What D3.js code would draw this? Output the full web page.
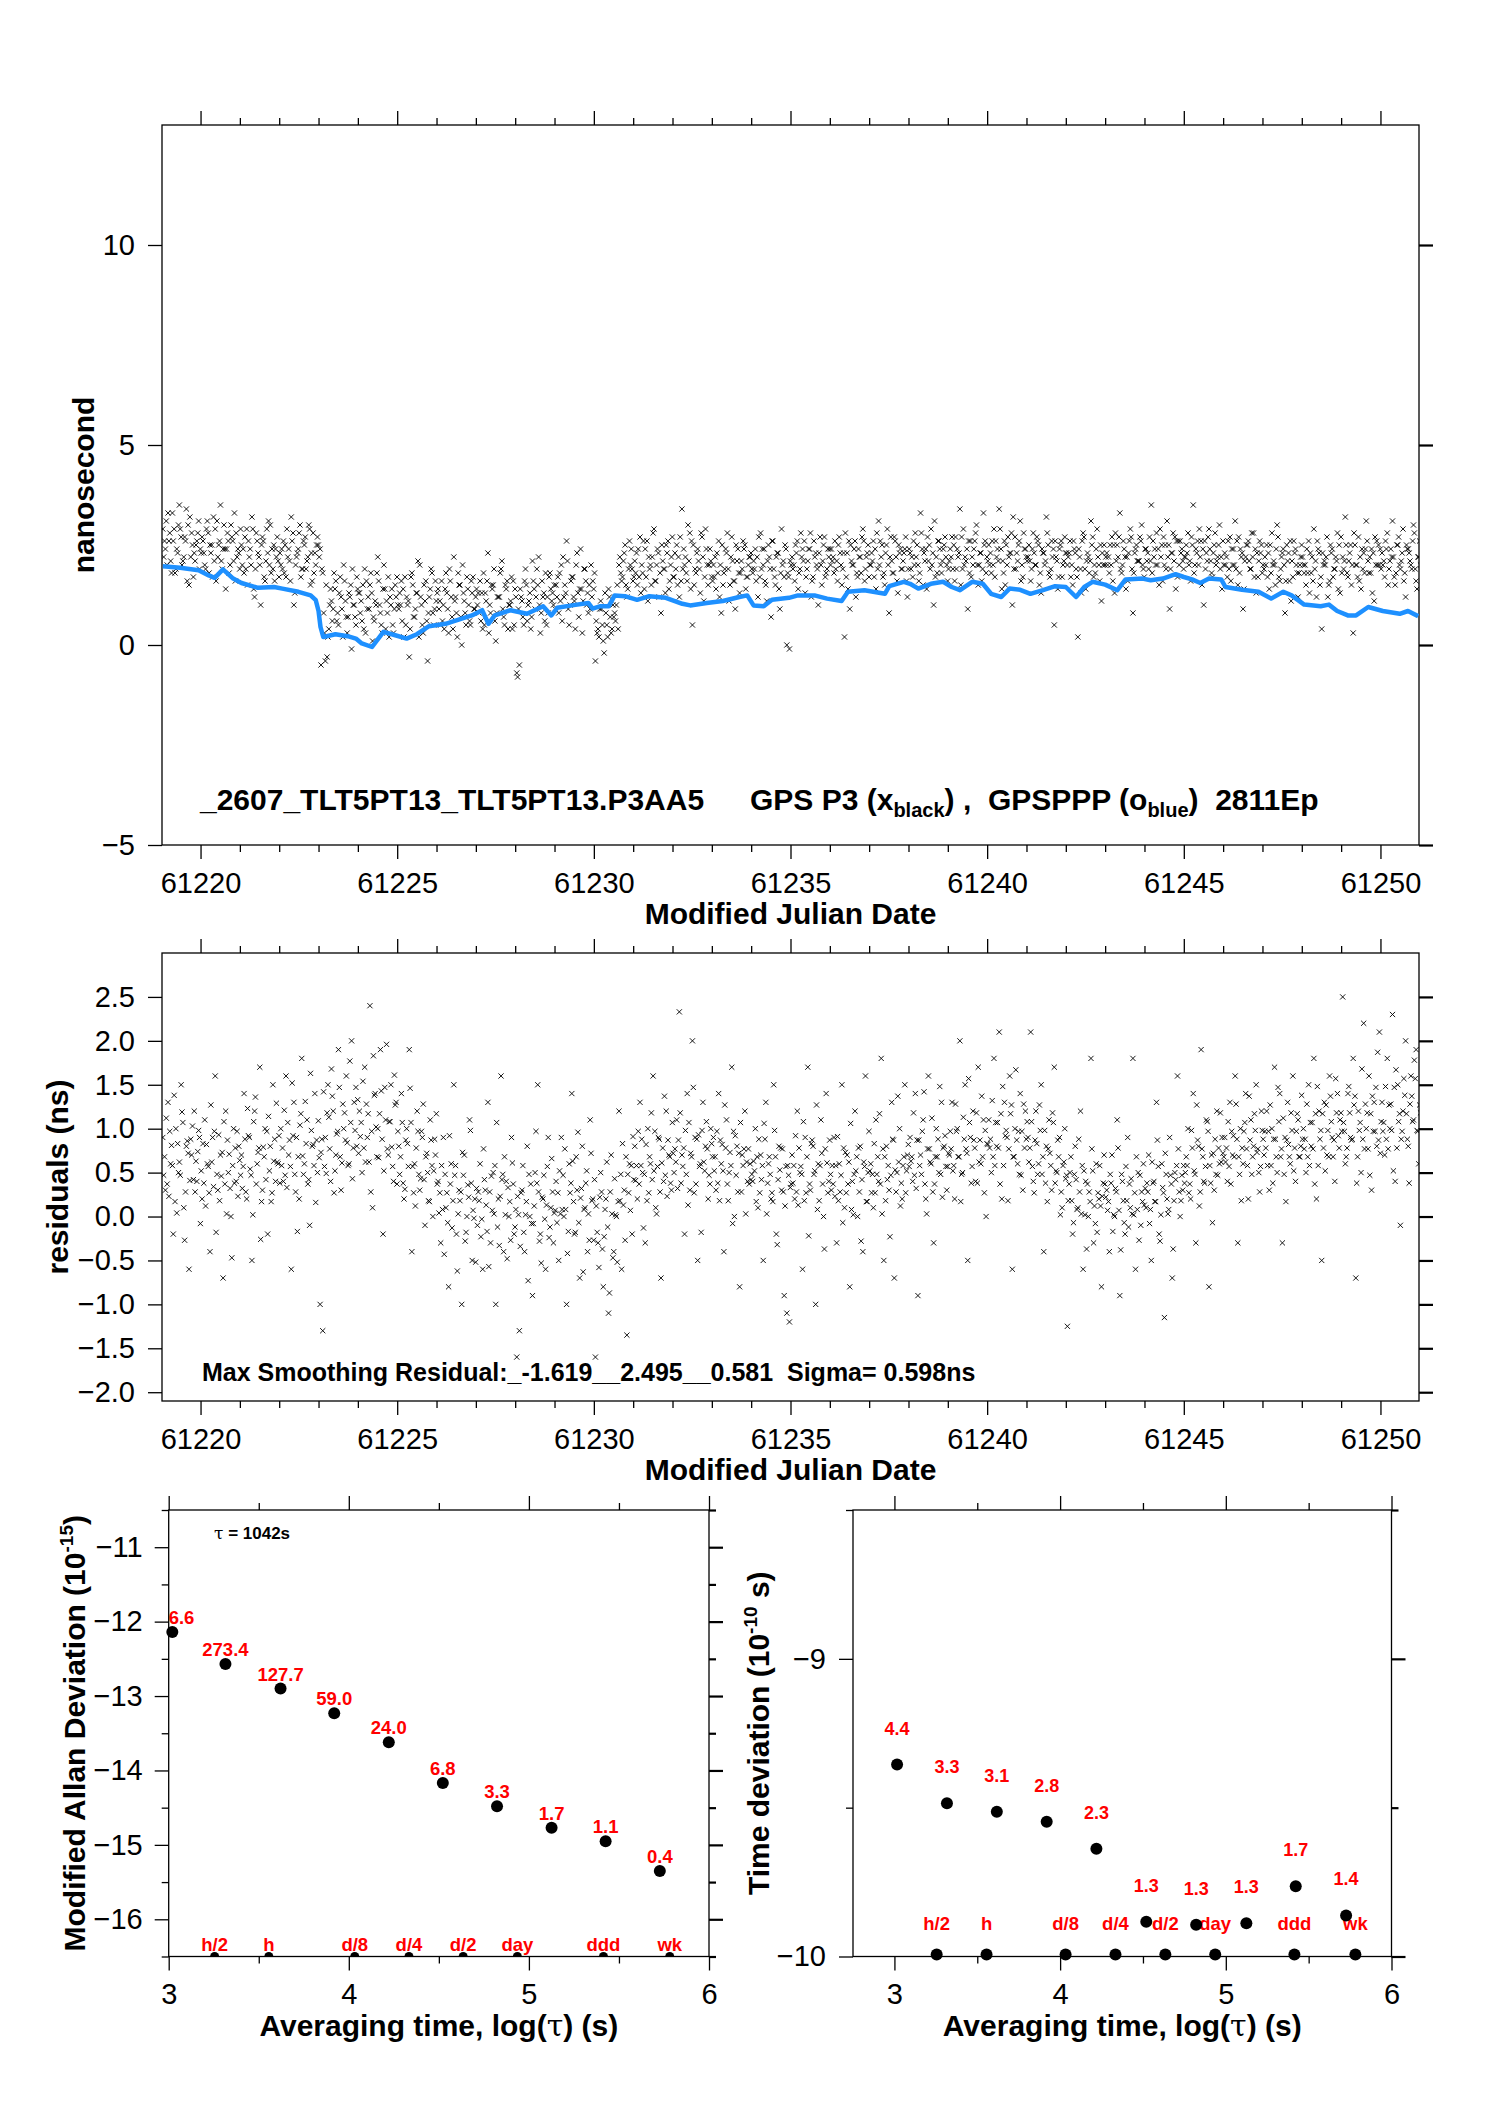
<!DOCTYPE html>
<html lang="en">
<head>
<meta charset="UTF-8">
<title>TLT5PT13 GPS P3 / GPSPPP</title>
<script src="https://d3js.org/d3.v7.min.js"></script>
<style>
  body { margin: 0; background: #fff; }
  svg { display: block; font-family: "Liberation Sans", Arial, Helvetica, sans-serif; }
  .tick text { font-size: 29px; fill: #000; }
  .title { font-weight: bold; font-size: 30px; white-space: pre; }
  .red { fill: #ff0000; font-weight: bold; font-size: 18.5px; }
</style>
</head>
<body>
<div id="chart"></div>
<script>
// ---- data ----
// GPS P3 clock difference (ns); three interleaved passes, 15 samples per day each
const p3Start = 61219.04, p3Step = 1 / 15;
const p3Ns = [
  2.9,2.4,3.3,2.1,2.6,1.9,3.0,2.7,2.2,3.4,1.5,2.8,2.3,2.6,1.9,   // 61219
  2.7,2.0,3.1,2.5,1.7,2.9,2.2,3.5,2.4,1.4,2.6,3.0,2.1,2.8,2.3,   // 61220
  2.5,1.8,2.9,2.2,3.2,1.2,2.6,2.0,2.7,1.6,2.3,3.0,1.9,2.4,2.1,   // 61221
  2.0,2.6,1.7,2.4,3.2,1.0,2.2,2.8,1.9,2.5,2.1,2.9,1.6,2.3,2.7,   // 61222
  2.4,1.8,-0.4,0.2,1.4,0.9,1.6,0.5,1.2,2.0,0.7,1.3,-0.1,1.0,1.7, // 61223
  1.3,0.6,1.9,0.9,1.5,0.1,1.1,2.2,0.8,1.4,0.4,1.7,1.0,0.3,1.2,   // 61224
  0.9,1.6,0.2,1.2,-0.3,1.8,0.7,1.3,2.0,0.5,1.1,-0.4,1.4,0.8,1.6, // 61225
  1.4,0.5,1.0,1.8,0.3,1.2,2.2,0.8,1.5,0.0,1.1,1.7,0.6,1.3,0.9,   // 61226
  1.0,1.6,0.4,1.3,2.3,0.8,1.5,0.1,1.2,1.9,0.7,1.4,1.0,1.7,0.5,   // 61227
  -0.7,-0.5,1.1,1.6,0.6,1.3,2.1,0.9,1.5,0.3,1.2,1.8,0.8,1.4,1.0, // 61228
  1.5,0.8,2.0,1.2,2.6,0.5,1.7,1.1,2.3,1.4,0.3,1.9,1.3,0.9,1.6,   // 61229
  -0.4,0.4,1.1,0.1,0.8,1.4,0.3,0.7,1.0,2.0,1.6,2.3,1.2,2.6,1.9,  // 61230
  2.1,1.5,2.7,1.8,2.4,1.1,2.0,2.8,1.6,2.3,0.8,1.9,2.5,1.4,2.2,   // 61231
  1.7,2.5,1.2,3.4,2.0,1.6,2.8,0.5,1.9,2.4,1.3,2.2,2.9,1.5,2.1,   // 61232
  2.0,1.4,2.6,0.8,1.8,2.3,1.1,2.7,1.6,2.1,1.3,1.9,2.5,1.7,2.2,   // 61233
  1.8,2.4,1.2,2.8,2.0,1.5,2.5,0.7,1.9,2.2,1.4,2.9,1.7,0.0,-0.1,  // 61234
  2.2,1.6,2.6,1.9,2.4,1.3,2.1,2.8,1.7,2.3,1.0,2.0,2.5,1.8,2.2,   // 61235
  2.4,1.8,2.1,2.7,1.5,0.2,2.3,0.9,2.0,2.6,1.7,2.2,2.9,1.9,2.5,   // 61236
  2.0,2.6,1.4,3.1,2.2,1.8,2.5,0.8,2.1,2.7,1.6,2.3,1.9,2.4,1.2,   // 61237
  2.3,1.7,2.8,2.0,3.3,1.5,2.4,2.1,2.9,1.0,2.2,2.6,1.8,2.5,2.0,   // 61238
  2.1,2.7,1.6,2.4,3.4,1.9,2.2,0.9,2.6,2.0,2.8,1.5,2.3,3.3,1.8,   // 61239
  2.5,1.8,2.9,2.2,3.4,1.4,2.6,2.0,2.3,1.0,2.7,2.1,3.1,1.7,2.4,   // 61240
  2.2,1.6,2.8,2.0,2.5,1.3,2.3,3.2,1.8,2.6,0.5,2.1,2.4,1.7,2.7,   // 61241
  2.0,2.6,1.5,2.3,0.2,1.9,2.8,1.4,2.2,3.1,1.7,2.4,2.0,1.1,2.5,   // 61242
  2.3,1.8,2.7,1.3,2.5,3.3,2.0,2.2,1.6,2.9,0.8,2.4,2.1,2.6,1.9,   // 61243
  2.4,1.9,3.5,2.2,2.8,1.5,2.5,2.0,3.1,0.9,2.3,2.7,1.7,2.6,2.1,   // 61244
  2.2,2.8,1.6,3.5,2.4,2.0,2.6,1.0,2.3,2.9,1.8,2.5,2.1,3.0,1.4,   // 61245
  2.3,1.7,2.7,2.0,3.1,1.5,2.4,0.9,2.2,2.6,1.9,2.8,1.3,2.1,2.5,   // 61246
  1.9,2.5,1.4,2.8,2.0,3.0,1.6,2.3,0.8,2.1,2.6,1.7,2.4,1.2,2.2,   // 61247
  2.0,1.5,2.6,1.8,2.9,1.2,2.3,0.4,2.1,2.7,1.6,2.4,1.9,2.8,1.3,   // 61248
  2.2,3.2,1.7,2.5,0.3,2.0,2.7,1.4,2.3,3.1,1.8,2.4,1.1,2.6,2.0,   // 61249
  2.3,1.7,2.8,2.1,3.1,1.5,2.5,1.9,2.9,1.2,2.4,2.0,3.0,1.6,2.2    // 61250
];
const p3NsB = [
  2.2,3.1,2.6,1.8,2.9,2.4,3.5,2.0,2.7,1.6,3.2,2.5,2.1,2.8,2.4,
  2.6,1.9,2.8,2.3,3.2,1.6,2.5,2.1,3.0,2.4,1.8,2.7,3.3,2.2,1.9,
  2.0,2.7,1.5,2.4,2.9,1.9,2.3,1.0,2.6,2.1,3.1,1.8,2.5,2.2,1.7,
  2.4,1.8,2.9,2.1,2.6,1.3,2.3,3.0,1.9,2.7,2.2,1.5,2.8,2.0,2.5,
  -0.5,0.8,1.5,0.4,1.1,1.8,0.6,1.3,0.9,1.6,0.3,1.2,1.9,0.7,1.4,
  0.8,1.5,0.3,1.2,1.8,0.7,1.0,1.6,0.5,2.0,1.1,0.2,1.4,0.9,1.7,
  1.3,0.6,1.7,1.0,0.4,1.5,0.9,2.1,1.2,0.3,1.6,0.8,1.9,0.5,1.1,
  0.9,1.6,0.4,1.3,1.9,0.7,1.1,0.2,1.5,2.0,0.8,1.4,0.5,1.7,1.2,
  1.3,0.6,1.8,1.1,0.3,1.5,1.9,0.8,1.2,2.1,0.5,1.6,1.0,0.4,1.4,
  -0.8,1.4,0.7,1.9,1.0,0.4,1.6,1.2,2.2,0.8,1.3,0.5,1.7,1.1,1.5,
  1.2,1.8,0.6,1.5,2.1,1.0,1.7,0.4,1.3,2.4,1.1,1.6,0.8,2.0,1.4,
  0.6,0.2,0.9,-0.2,0.5,1.2,0.4,0.8,1.5,2.2,1.7,2.5,1.4,2.0,1.6,
  1.8,2.4,1.3,2.6,1.7,2.2,1.5,2.9,2.0,1.2,2.5,1.9,2.3,1.6,2.7,
  2.3,1.5,2.7,1.9,2.2,3.0,1.4,2.5,1.8,2.1,2.8,1.1,2.4,2.0,1.7,
  1.7,2.3,1.2,2.5,1.9,2.8,1.5,2.1,0.9,2.4,1.8,2.6,1.4,2.0,2.3,
  2.1,1.6,2.7,1.9,2.4,1.1,2.2,2.6,1.7,2.3,0.9,2.0,2.5,1.8,2.1,
  1.9,2.5,1.4,2.8,2.1,1.7,2.4,1.2,2.6,2.0,2.3,1.5,2.7,1.9,2.4,
  2.1,2.6,1.6,2.3,1.9,2.8,1.4,2.5,2.0,1.2,2.4,1.8,2.6,2.2,1.7,
  2.3,1.7,2.8,2.0,2.5,1.5,2.9,2.2,1.8,2.6,1.3,2.4,2.1,2.7,1.9,
  1.9,2.6,2.2,1.6,2.8,2.3,1.4,2.5,2.0,3.1,1.8,2.4,2.1,2.7,1.6,
  2.4,1.9,2.7,2.2,1.5,2.9,2.1,2.6,1.7,2.4,3.0,2.0,1.6,2.5,2.2,
  2.0,2.6,1.7,2.4,2.9,2.1,1.5,2.7,2.3,3.2,1.9,2.5,1.6,2.8,2.2,
  2.5,1.9,2.3,2.7,1.5,2.4,2.0,2.8,1.7,2.2,2.6,1.4,2.5,2.0,2.3,
  2.2,1.7,2.6,1.9,2.4,1.3,2.7,2.1,1.8,2.5,2.0,2.9,1.6,2.3,2.0,
  2.0,2.5,1.6,2.8,2.2,1.9,2.6,1.4,2.3,2.7,1.8,2.5,2.1,3.0,1.7,
  2.1,2.7,1.8,2.4,2.0,2.9,1.6,2.5,2.2,1.9,2.8,1.4,2.6,2.3,1.9,
  2.5,2.0,2.7,1.8,2.3,2.9,1.5,2.6,2.1,2.4,1.7,2.8,2.2,1.9,2.6,
  2.0,2.6,1.6,2.4,1.9,2.7,2.2,1.4,2.5,2.1,2.8,1.7,2.3,2.6,1.8,
  2.2,1.7,2.5,2.0,1.5,2.7,1.9,2.4,1.6,2.3,1.1,2.6,2.0,1.8,2.5,
  1.8,2.4,1.3,2.2,1.9,2.6,1.5,2.3,2.0,1.2,2.5,1.7,2.2,1.4,2.7,
  1.9,2.5,2.1,1.5,2.8,2.0,1.6,2.4,1.8,2.6,2.2,1.3,2.7,2.0,2.4,
  2.0,2.6,1.5,2.4,2.2,1.8,2.7,2.1,1.6,2.5,2.3,1.9,2.8,1.4,2.6
];
const p3NsC = [
  2.6,2.0,2.8,3.3,1.8,2.3,2.9,2.1,2.6,3.0,2.2,1.7,2.5,3.1,2.3,
  2.3,2.9,1.8,2.5,2.1,3.1,2.6,1.9,2.4,2.8,2.0,2.6,1.6,2.4,2.9,
  2.4,1.9,2.6,2.0,1.4,2.8,2.2,2.5,1.7,2.9,2.0,2.4,1.6,2.7,2.3,
  1.9,2.5,2.2,1.6,2.8,2.0,2.4,1.7,2.6,1.9,3.0,2.3,1.8,2.5,2.2,
  1.9,0.3,-0.3,1.0,0.6,1.4,0.8,1.7,0.2,1.1,0.7,1.5,1.0,0.5,1.3,
  1.1,0.4,1.6,0.9,1.3,0.6,1.8,1.0,0.3,1.4,0.8,1.2,0.5,1.5,1.0,
  1.0,1.4,0.5,1.1,1.7,0.7,1.3,0.2,1.0,1.5,0.6,1.2,1.8,0.9,1.3,
  1.1,0.6,1.4,0.9,1.6,0.4,1.2,1.8,0.7,1.3,0.5,1.0,1.6,0.9,1.4,
  0.8,1.3,0.5,1.6,1.0,1.4,0.6,1.2,1.8,0.9,1.5,0.4,1.1,1.6,1.2,
  0.9,1.2,0.5,1.5,1.1,0.7,1.4,1.9,1.0,1.6,0.6,1.2,1.8,1.3,0.9,
  1.7,1.1,2.2,1.3,0.9,1.6,1.2,2.0,0.7,1.4,1.9,1.0,1.5,1.2,1.8,
  0.3,0.9,0.5,1.3,0.2,0.7,1.0,0.6,0.4,1.8,2.1,1.5,1.9,2.4,1.7,
  2.3,1.7,2.0,1.4,2.6,1.9,2.2,1.6,2.4,1.8,2.1,1.3,2.6,2.0,1.7,
  1.9,2.2,1.6,2.4,1.8,2.1,2.6,1.5,2.3,1.9,2.7,1.7,2.0,2.4,1.6,
  2.2,1.8,2.0,1.5,2.4,1.9,2.2,1.6,2.5,1.8,2.1,2.4,1.7,2.2,1.9,
  1.9,2.2,1.7,2.4,1.6,2.1,1.9,2.6,1.5,2.3,1.8,2.1,2.4,1.7,2.0,
  2.0,2.3,1.8,2.2,2.6,1.9,2.4,1.6,2.2,1.9,2.7,2.1,1.7,2.4,2.0,
  2.2,1.9,2.5,2.0,2.3,1.7,2.6,2.1,2.4,1.8,2.2,2.7,1.6,2.3,2.0,
  2.1,2.4,1.9,2.6,1.7,2.3,2.0,2.7,1.8,2.2,2.5,1.9,2.3,1.6,2.4,
  2.2,2.0,2.5,1.8,2.4,2.1,2.7,1.9,2.3,1.7,2.6,2.0,2.4,2.2,1.9,
  2.2,2.5,1.9,2.3,2.7,2.0,2.4,1.8,2.2,2.6,2.0,2.3,1.9,2.6,2.1,
  2.3,2.0,2.6,2.1,2.4,1.8,2.5,2.2,2.8,1.9,2.3,2.6,2.0,2.4,2.1,
  2.1,2.4,2.0,2.6,1.8,2.3,2.1,2.5,1.9,2.4,2.2,1.7,2.6,2.1,2.3,
  2.3,2.0,2.4,1.7,2.2,2.6,1.9,2.3,2.1,2.7,1.8,2.2,2.5,2.0,2.2,
  2.2,2.0,2.5,2.1,2.7,1.8,2.4,2.2,2.6,1.9,2.3,2.1,2.7,2.0,2.4,
  2.3,2.1,2.6,2.0,2.4,2.2,2.7,1.9,2.5,2.3,2.1,2.6,2.0,2.4,2.2,
  2.3,2.1,2.5,2.0,2.6,2.2,2.4,1.9,2.7,2.1,2.3,2.0,2.5,2.2,2.0,
  2.2,1.9,2.4,2.0,2.6,1.8,2.3,2.1,2.5,1.9,2.2,2.4,1.7,2.3,2.0,
  2.0,2.3,1.8,2.1,2.4,1.7,2.2,2.0,2.5,1.6,2.1,2.3,1.8,2.0,2.2,
  2.0,1.8,2.3,1.6,2.1,2.4,1.7,2.0,2.2,1.5,2.3,1.9,2.1,2.5,1.8,
  2.1,1.8,2.3,2.0,2.5,1.7,2.2,1.9,2.4,2.1,1.8,2.3,2.0,2.5,1.9,
  2.1,2.4,1.9,2.2,1.7,2.5,2.0,2.3,1.8,2.4,2.1,2.6,1.9,2.2,2.0
];

// GPSPPP smoothed curve (ns)
const pppMjd = [61219.04,61219.48,61219.95,61220.21,61220.36,61220.57,61220.83,61221.04,61221.46,61221.87,
  61222.08,61222.49,61222.80,61222.93,61223.00,61223.05,61223.12,61223.43,61223.74,61223.95,
  61224.10,61224.36,61224.52,61224.65,61224.93,61225.24,61225.50,61225.81,61226.23,61226.64,
  61226.90,61227.16,61227.32,61227.48,61227.88,61228.30,61228.71,61228.92,61229.07,61229.44,
  61229.86,61229.97,61230.17,61230.38,61230.53,61230.79,61231.10,61231.41,61231.83,61232.25,
  61232.45,61232.87,61233.28,61233.70,61233.90,61234.06,61234.32,61234.53,61234.96,61235.19,
  61235.61,61235.93,61236.30,61236.46,61236.88,61237.40,61237.51,61237.88,61238.04,61238.25,
  61238.57,61238.88,61239.10,61239.31,61239.62,61239.89,61240.10,61240.36,61240.57,61240.84,
  61241.10,61241.42,61241.73,61242.00,61242.26,61242.47,61242.68,61243.00,61243.31,61243.52,
  61243.95,61244.16,61244.47,61244.79,61245.00,61245.21,61245.42,61245.64,61245.95,61246.06,
  61246.48,61246.90,61247.22,61247.53,61247.74,61248.06,61248.48,61248.69,61248.90,61249.17,
  61249.38,61249.69,61250.06,61250.49,61250.70,61250.96];
const pppNs = [1.97,1.93,1.87,1.74,1.68,1.89,1.66,1.55,1.43,1.45,
  1.41,1.33,1.24,1.12,0.85,0.45,0.20,0.27,0.22,0.16,
  0.04,-0.05,0.16,0.33,0.25,0.16,0.27,0.47,0.53,0.66,
  0.74,0.87,0.53,0.74,0.87,0.78,0.97,0.74,0.93,0.99,
  1.05,0.91,0.97,0.97,1.24,1.22,1.13,1.22,1.18,1.03,
  0.99,1.05,1.10,1.20,1.24,0.99,0.97,1.13,1.18,1.24,
  1.24,1.16,1.10,1.33,1.37,1.28,1.47,1.58,1.53,1.41,
  1.53,1.58,1.45,1.37,1.58,1.53,1.28,1.20,1.41,1.38,
  1.28,1.37,1.47,1.45,1.20,1.45,1.58,1.51,1.37,1.64,
  1.66,1.62,1.66,1.77,1.70,1.64,1.55,1.66,1.64,1.45,
  1.38,1.33,1.16,1.33,1.24,1.01,0.97,1.01,0.85,0.74,
  0.74,0.95,0.85,0.78,0.85,0.72];

// smoothing residuals (ns), same three passes
const residNs = [
  0.9,0.3,1.3,0.6,-0.2,1.0,0.5,1.5,0.1,0.8,-0.6,0.7,1.2,0.4,0.9,     // 61219
  0.2,1.1,0.6,-0.4,0.9,1.6,0.3,0.7,-0.7,1.2,0.5,0.0,1.0,0.4,0.8,     // 61220
  0.7,1.4,0.2,0.9,-0.5,1.2,0.6,1.7,0.3,1.0,-0.2,0.8,1.5,0.4,0.6,     // 61221
  1.0,0.4,1.6,0.7,-0.6,1.3,0.9,0.2,1.8,0.6,1.1,-0.1,0.8,1.4,0.5,     // 61222
  -1.0,-1.3,0.9,1.5,0.4,1.2,0.7,1.9,0.3,1.0,1.6,0.6,2.0,1.3,0.8,     // 61223
  1.2,0.5,1.7,0.9,2.4,0.1,1.4,1.0,1.9,-0.2,1.1,0.7,1.5,0.4,1.3,      // 61224
  0.8,1.4,0.2,1.0,1.9,-0.4,0.6,1.2,0.3,0.9,-0.1,0.5,1.1,0.0,0.7,     // 61225
  0.4,-0.3,0.9,0.1,-0.8,0.6,1.5,-0.2,0.3,-1.0,0.7,0.0,1.1,-0.5,0.2,  // 61226
  -0.1,0.6,-0.6,0.3,1.3,-0.3,0.5,-1.0,0.2,1.6,-0.4,0.4,0.0,0.9,-0.2, // 61227
  -1.6,-1.3,0.3,-0.4,0.8,0.0,-0.9,0.5,1.5,-0.2,0.2,-0.6,0.9,0.1,-0.3,// 61228
  0.4,-0.5,0.9,0.0,-1.0,0.6,1.4,-0.2,0.3,-0.7,0.8,0.1,-0.4,1.1,0.2,  // 61229
  -1.6,-0.3,0.5,-0.8,0.2,-1.1,0.7,-0.4,0.0,1.2,-0.6,0.3,-1.35,0.6,-0.2, // 61230
  0.8,0.2,1.3,0.5,-0.3,1.0,0.6,1.6,0.1,0.9,-0.7,0.4,1.2,0.7,0.3,     // 61231
  0.5,1.1,2.33,0.7,-0.2,1.4,0.3,2.0,0.9,-0.5,0.6,1.3,0.8,0.2,1.0,    // 61232
  0.9,0.3,1.4,0.6,-0.4,1.1,0.5,1.7,0.0,0.8,-0.8,0.7,1.2,0.4,0.6,     // 61233
  0.4,1.0,0.1,0.7,-0.5,1.3,0.6,0.2,1.5,-0.2,0.8,0.3,-0.9,-1.1,-1.2,  // 61234
  0.7,0.2,1.2,0.5,-0.6,0.9,1.7,0.3,0.8,-1.0,0.6,1.1,0.0,1.4,0.4,     // 61235
  0.3,0.9,-0.3,0.6,1.5,0.1,0.7,-0.8,0.4,1.2,0.0,0.8,-0.4,1.6,0.5,    // 61236
  0.6,0.1,1.1,0.4,1.8,-0.5,0.8,0.3,1.3,-0.7,0.5,1.0,0.2,1.5,0.7,     // 61237
  0.9,0.4,1.4,-0.9,0.7,1.1,0.2,1.6,0.6,-0.3,1.0,0.5,1.3,0.8,0.3,     // 61238
  0.7,1.3,0.2,1.0,2.0,0.5,1.5,-0.5,0.9,1.2,0.4,1.7,0.6,1.1,0.0,      // 61239
  1.1,0.5,1.8,0.8,2.1,0.2,1.3,0.9,1.6,-0.6,1.0,0.6,1.4,0.3,1.2,      // 61240
  0.9,2.1,0.4,1.2,0.6,1.5,-0.4,0.8,1.1,0.3,1.7,0.5,0.9,0.1,1.0,      // 61241
  -1.25,0.5,-0.2,0.8,0.1,1.2,-0.6,0.4,0.0,1.8,-0.3,0.6,0.2,-0.8,0.7, // 61242
  0.3,-0.4,0.7,0.0,1.1,-0.9,0.4,-0.2,0.9,0.1,1.8,-0.6,0.5,-0.1,0.6,  // 61243
  0.1,0.7,-0.5,0.4,1.3,-0.2,0.6,-1.15,0.2,0.9,-0.7,0.5,1.6,0.0,0.3,  // 61244
  0.5,1.0,0.2,1.4,-0.3,0.8,1.9,0.4,1.1,-0.8,0.7,0.3,1.2,0.6,0.9,     // 61245
  0.9,0.4,1.3,0.7,1.6,-0.3,1.0,0.6,1.4,0.2,1.1,0.8,1.5,0.5,1.2,      // 61246
  0.7,1.2,0.3,1.0,1.7,0.5,1.4,-0.3,0.9,1.3,0.6,1.6,0.4,1.1,0.8,      // 61247
  1.0,0.5,1.5,0.8,1.8,0.2,1.2,-0.5,1.3,0.7,1.6,0.9,0.4,1.4,1.1,      // 61248
  2.5,0.6,1.4,0.9,1.8,-0.7,1.2,0.5,2.2,1.0,1.6,0.3,1.3,0.8,2.1,      // 61249
  1.3,0.7,1.8,1.0,2.3,0.4,1.5,-0.1,1.2,2.0,0.8,1.6,1.1,1.9,0.6       // 61250
];
const residNsB = [
  0.47,1.12,0.23,0.81,1.38,0.04,0.62,1.19,-0.27,0.86,0.41,1.03,0.28,0.74,-0.08,
  0.83,0.12,0.57,1.27,0.34,-0.18,0.93,0.46,1.08,0.03,0.71,-0.47,0.38,0.97,0.64,
  0.32,0.88,1.23,0.54,0.02,1.36,0.73,-0.26,0.79,0.42,1.14,0.17,0.63,1.29,0.92,
  0.58,1.21,0.33,0.87,1.52,0.48,-0.17,1.04,0.69,1.31,0.37,1.63,0.82,0.16,1.09,
  0.73,1.42,0.49,1.13,1.68,0.27,0.94,1.47,0.61,1.18,0.84,1.77,0.43,0.98,1.33,
  0.91,1.54,0.62,1.17,0.28,1.83,1.02,0.67,1.43,0.52,1.96,1.08,0.79,1.61,0.37,
  0.48,1.07,0.31,0.83,1.46,0.57,0.12,0.97,0.43,1.28,0.68,0.18,0.87,0.52,1.17,
  0.04,0.58,-0.43,0.27,0.92,-0.13,0.47,-0.62,0.18,0.73,-0.28,0.36,0.98,0.07,-0.52,
  0.28,-0.23,0.77,0.13,-0.57,0.46,0.03,1.07,-0.33,0.42,0.68,-0.48,0.17,0.61,-0.12,
  0.23,-0.34,0.58,0.02,-0.73,0.37,-0.08,0.97,0.28,-0.53,0.47,0.13,-0.24,0.66,0.04,
  -0.07,0.52,0.08,0.77,-0.42,0.27,0.63,-0.18,0.96,0.21,-0.63,0.38,0.03,0.72,-0.27,
  0.12,-0.58,0.28,-0.23,0.62,-0.87,0.03,0.43,-0.52,0.18,0.83,-0.27,0.48,0.07,0.91,
  0.41,0.97,0.58,-0.13,0.82,0.27,1.18,0.52,0.03,0.88,0.61,1.37,0.23,0.68,1.07,
  0.77,0.32,1.18,0.57,0.98,0.13,0.72,1.47,0.37,0.93,-0.18,0.62,1.08,0.47,0.83,
  0.52,0.97,0.18,0.82,1.27,0.37,0.73,-0.08,0.92,0.28,1.07,0.58,0.03,0.77,0.42,
  0.63,0.17,0.88,0.42,1.06,0.03,0.68,0.27,0.98,-0.32,0.53,0.77,0.12,0.58,0.33,
  0.38,0.92,0.13,0.57,1.08,0.27,-0.22,0.83,0.48,1.27,0.18,0.72,-0.37,0.61,0.87,
  0.58,0.23,0.91,0.28,-0.07,0.73,0.37,1.06,0.02,0.52,0.78,-0.28,0.62,0.17,0.97,
  0.27,0.83,0.48,1.17,0.03,0.68,0.42,-0.23,0.88,0.53,1.37,0.12,0.58,0.27,0.82,
  0.63,1.18,0.32,0.87,0.48,1.42,0.03,0.77,1.12,0.37,0.68,1.48,0.22,0.92,0.57,
  0.97,0.52,1.28,0.68,0.17,1.13,0.77,1.57,0.38,0.87,1.18,0.62,1.37,0.27,0.83,
  0.78,1.32,0.58,1.07,0.37,1.48,0.92,0.18,1.17,0.68,1.67,0.97,0.47,1.28,0.88,
  0.62,1.08,0.27,0.83,1.27,0.48,0.98,0.17,0.72,1.18,0.38,0.87,0.02,0.58,0.43,
  0.18,0.68,-0.07,0.42,0.88,0.03,0.52,-0.37,0.28,0.77,0.12,-0.18,0.58,0.23,0.37,
  0.07,0.48,-0.17,0.32,0.78,-0.38,0.18,0.57,-0.12,0.43,0.02,0.68,-0.27,0.28,0.13,
  0.38,-0.08,0.62,0.17,0.87,-0.28,0.33,0.72,0.03,0.47,-0.37,0.42,0.77,0.18,0.58,
  0.68,0.27,0.98,0.52,1.27,0.12,0.77,0.38,1.08,0.58,-0.07,0.88,0.47,1.18,0.72,
  0.62,1.08,0.37,0.92,1.28,0.68,0.18,0.97,0.77,1.37,0.48,1.17,0.73,0.28,0.98,
  0.97,0.58,1.27,0.38,0.88,1.47,0.68,1.12,0.17,0.82,1.18,0.52,0.97,0.68,1.38,
  0.77,1.28,0.58,1.07,0.37,1.48,0.88,1.17,0.52,0.98,1.37,0.68,1.57,0.92,1.18,
  1.07,0.68,1.48,0.87,1.27,0.38,0.98,1.68,0.77,1.18,0.47,1.37,0.97,1.87,0.72,
  0.97,1.48,0.77,1.28,0.52,1.67,1.08,0.88,1.57,1.17,0.38,1.37,1.78,0.98,1.27
];
const residNsC = [
  0.68,0.37,0.97,0.58,0.17,0.83,0.47,1.07,0.28,0.72,0.88,0.42,0.63,0.98,0.52,
  0.38,0.82,0.27,0.62,0.97,0.48,0.18,0.73,0.37,0.87,0.32,0.58,0.78,0.23,0.47,
  0.57,0.28,0.92,0.47,1.08,0.37,0.78,0.17,0.68,0.97,0.52,0.27,0.88,0.62,0.38,
  0.78,0.47,1.07,0.57,0.92,0.28,0.68,1.17,0.48,0.83,0.42,0.98,0.58,0.87,0.67,
  0.88,0.57,1.18,0.77,1.37,0.52,0.97,0.68,1.28,0.87,0.58,1.07,0.78,1.47,0.72,
  1.07,0.78,1.28,0.62,0.97,1.38,0.68,1.17,0.88,1.47,0.77,1.08,0.57,1.27,0.97,
  0.68,0.38,0.87,0.57,1.07,0.27,0.78,0.48,0.97,0.42,0.72,0.17,0.58,0.88,0.37,
  0.27,0.08,0.48,-0.07,0.37,0.18,0.58,0.03,0.28,0.47,-0.18,0.22,0.38,-0.02,0.32,
  0.18,-0.03,0.42,-0.17,0.28,0.07,0.58,-0.12,0.23,0.48,0.02,0.33,-0.27,0.37,0.08,
  0.02,0.27,-0.18,0.17,0.48,-0.08,0.12,0.38,-0.28,0.22,-0.03,0.57,-0.12,0.28,0.07,
  0.27,0.03,0.47,0.08,-0.17,0.38,0.17,0.68,-0.07,0.32,0.08,0.52,-0.27,0.18,0.42,
  -0.18,0.22,-0.37,0.08,-0.12,0.28,-0.47,0.02,0.17,0.48,0.13,0.68,0.27,0.58,0.42,
  0.58,0.37,0.88,0.48,0.18,0.68,0.42,0.97,0.57,0.28,0.78,0.47,0.87,0.38,0.72,
  0.62,0.87,0.38,0.78,0.48,1.07,0.68,0.27,0.88,0.57,0.98,0.52,0.77,0.37,0.68,
  0.68,0.38,0.87,0.52,0.78,0.18,0.58,0.97,0.47,0.72,0.28,0.77,0.62,0.37,0.48,
  0.52,0.68,0.27,0.58,0.88,0.38,0.48,0.17,0.68,0.42,0.78,0.28,0.57,0.47,0.37,
  0.58,0.28,0.78,0.48,0.18,0.68,0.37,0.87,0.52,0.08,0.58,0.37,0.77,0.27,0.48,
  0.37,0.58,0.18,0.47,0.78,0.27,0.62,0.08,0.48,0.68,0.28,0.42,0.57,0.17,0.52,
  0.48,0.27,0.68,0.37,0.77,0.18,0.58,0.47,0.87,0.28,0.62,0.38,0.68,0.52,0.57,
  0.68,0.47,0.87,0.58,0.97,0.37,0.77,0.62,0.28,0.68,0.88,0.48,0.78,0.57,0.72,
  0.77,0.58,0.97,0.68,0.48,0.88,0.72,1.07,0.57,0.78,0.38,0.87,0.68,0.98,0.82,
  0.88,0.68,1.07,0.78,1.17,0.58,0.98,0.77,1.27,0.68,0.87,0.48,0.97,0.78,1.08,
  0.78,0.57,0.87,0.48,0.98,0.68,0.38,0.77,0.58,1.07,0.52,0.68,0.28,0.62,0.47,
  0.37,0.18,0.48,0.08,0.28,0.58,0.02,0.37,0.17,0.52,-0.08,0.27,0.12,0.38,0.22,
  0.17,0.38,0.02,0.28,0.07,0.48,-0.07,0.18,0.37,0.03,0.27,0.08,0.47,0.17,0.32,
  0.28,0.08,0.38,0.17,0.57,0.02,0.27,0.48,0.08,0.37,0.18,0.58,0.28,0.47,0.38,
  0.58,0.37,0.78,0.48,0.87,0.28,0.68,0.57,0.97,0.38,0.72,0.48,0.78,0.62,0.68,
  0.78,0.57,0.97,0.68,0.88,0.48,0.78,1.07,0.58,0.87,0.68,0.98,0.77,0.57,0.88,
  0.78,0.97,0.58,0.88,0.68,1.08,0.77,0.48,0.87,0.68,0.98,0.78,1.17,0.68,0.88,
  0.88,0.68,1.07,0.77,1.17,0.58,0.98,0.78,1.27,0.68,1.08,0.87,1.18,0.78,0.97,
  0.97,0.78,1.18,0.88,1.37,0.68,1.07,0.88,1.28,0.77,1.17,0.97,1.47,0.87,1.08,
  1.07,0.88,1.27,0.98,1.47,0.78,1.17,0.97,1.38,0.88,1.28,1.08,1.57,0.97,1.18
];

// modified Allan deviation, log10 values
const adevLogTau = [3.02, 3.315, 3.621, 3.919, 4.222, 4.522, 4.823, 5.126, 5.426, 5.727];
const adevLog = [-12.14, -12.57, -12.90, -13.23, -13.62, -14.17, -14.48, -14.77, -14.95, -15.35];
const adevLabel = ["6.6", "273.4", "127.7", "59.0", "24.0", "6.8", "3.3", "1.7", "1.1", "0.4"];

// time deviation, log10 values
const tdevLogTau = [3.016, 3.317, 3.618, 3.919, 4.219, 4.520, 4.821, 5.124, 5.422, 5.726];
const tdevLog = [-9.355, -9.485, -9.514, -9.547, -9.638, -9.883, -9.893, -9.888, -9.764, -9.862];
const tdevLabel = ["4.4", "3.3", "3.1", "2.8", "2.3", "1.3", "1.3", "1.3", "1.7", "1.4"];

// reference averaging times
const markLogTau = [3.255, 3.556, 4.033, 4.334, 4.635, 4.936, 5.414, 5.782];
const markName = ["h/2", "h", "d/8", "d/4", "d/2", "day", "ddd", "wk"];

const mjdMajor = [61220, 61225, 61230, 61235, 61240, 61245, 61250];
const mjdMinor = d3.range(61221, 61251).filter(d => d % 5 !== 0);

// ---- drawing ----
const svg = d3.select("#chart").append("svg")
  .attr("width", 1488).attr("height", 2105);
svg.append("rect").attr("width", 1488).attr("height", 2105).attr("fill", "#fff");
const defs = svg.append("defs");

const xMjd = d3.scaleLinear().domain([61219.02, 61250.98]).range([162, 1419]);
const yNs = d3.scaleLinear().domain([-5, 13]).range([845, 125]);
const yRes = d3.scaleLinear().domain([-2.1, 3.0]).range([1401, 953]);
const xAdev = d3.scaleLinear().domain([3, 6]).range([168.7, 709]);
const yAdev = d3.scaleLinear().domain([-16.5, -10.5]).range([1956.5, 1510]);
const xTdev = d3.scaleLinear().domain([2.75, 6]).range([853, 1391.5]);
const yTdev = d3.scaleLinear().domain([-10, -8.5]).range([1956.5, 1510]);

let clipId = 0;
function clipFor(x, y) {
  const id = "clip" + (clipId++);
  defs.append("clipPath").attr("id", id).append("rect")
    .attr("x", x.range()[0]).attr("y", y.range()[1])
    .attr("width", x.range()[1] - x.range()[0])
    .attr("height", y.range()[0] - y.range()[1]);
  return "url(#" + id + ")";
}

function ticks(g, axis, vals, size, fmt, transform, width) {
  const a = axis.tickValues(vals).tickSize(size).tickPadding(13.4)
    .tickFormat(fmt || (() => ""));
  const t = g.append("g").attr("transform", transform).call(a);
  t.select(".domain").remove();
  t.selectAll("line").attr("stroke", "#000").attr("stroke-width", width);
  t.attr("font-family", null).attr("font-size", null);
  return t;
}

function frame(x, y, o) {
  const g = svg.append("g");
  const [l, r] = x.range(), [b, t] = y.range();
  ticks(g, d3.axisBottom(x), o.xMajor, 14, o.xFmt, `translate(0,${b})`, 1.3);
  ticks(g, d3.axisBottom(x), o.xMinor, 7, null, `translate(0,${b})`, 1.3);
  ticks(g, d3.axisTop(x), o.xMajor, 14, null, `translate(0,${t})`, 1.3);
  ticks(g, d3.axisTop(x), o.xMinor, 7, null, `translate(0,${t})`, 1.3);
  const left = ticks(g, d3.axisLeft(y), o.yMajor, 14, o.yFmt, `translate(${l},0)`, 1.3);
  left.selectAll("text").attr("x", -o.yPad);
  ticks(g, d3.axisLeft(y), o.yMinor, 7, null, `translate(${l},0)`, 1.3);
  ticks(g, d3.axisRight(y), o.yMajor, 14, null, `translate(${r},0)`, 2.2);
  ticks(g, d3.axisRight(y), o.yMinor, 7, null, `translate(${r},0)`, 2.2);
  g.append("rect").attr("x", l).attr("y", t).attr("width", r - l).attr("height", b - t)
    .attr("fill", "none").attr("stroke", "#000").attr("stroke-width", 1.3);
  const xt = g.append("text").attr("class", "title").attr("text-anchor", "middle")
    .attr("x", (l + r) / 2).attr("y", b + 79);
  o.xTitle(xt);
  const yt = g.append("text").attr("class", "title").attr("text-anchor", "middle")
    .attr("transform", `translate(${o.yTitleX},${(t + b) / 2}) rotate(-90)`)
    .attr("dy", "0.36em");
  o.yTitle(yt);
  return g;
}

const crossPath = "M-2.6,-2.6L2.6,2.6M-2.6,2.6L2.6,-2.6";
function crosses(x, y, values, offset) {
  svg.append("g").attr("clip-path", clipFor(x, y))
    .selectAll("path").data(values).join("path")
    .attr("d", crossPath)
    .attr("transform", (v, i) => `translate(${x(p3Start + offset + i * p3Step)},${y(v)})`)
    .attr("fill", "none").attr("stroke", "#000").attr("stroke-width", 0.9);
}

function mjdTitle(t) { t.text("Modified Julian Date"); }
function tauTitle(t) {
  t.append("tspan").text("Averaging time, log(");
  t.append("tspan").attr("font-family", "DejaVu Serif").attr("font-weight", "normal").text("τ");
  t.append("tspan").text(") (s)");
}

// panel 1: P3 and PPP
frame(xMjd, yNs, {
  xMajor: mjdMajor, xMinor: mjdMinor, xFmt: d3.format("d"),
  yMajor: [-5, 0, 5, 10], yMinor: [], yFmt: d3.format("d"), yPad: 27,
  yTitleX: 83, xTitle: mjdTitle, yTitle: t => t.text("nanosecond")
});
crosses(xMjd, yNs, p3Ns, 0);
crosses(xMjd, yNs, p3NsB, p3Step / 3);
crosses(xMjd, yNs, p3NsC, 2 * p3Step / 3);
svg.append("path")
  .datum(pppMjd.map((m, i) => [m, pppNs[i]]))
  .attr("clip-path", clipFor(xMjd, yNs))
  .attr("d", d3.line().x(d => xMjd(d[0])).y(d => yNs(d[1])))
  .attr("fill", "none").attr("stroke", "#1e90ff").attr("stroke-width", 4.5)
  .attr("stroke-linejoin", "round");

const cap = svg.append("text").attr("class", "title").attr("y", 810);
cap.append("tspan").attr("x", 200).text("_2607_TLT5PT13_TLT5PT13.P3AA5");
cap.append("tspan").attr("x", 750).text("GPS P3 (x");
cap.append("tspan").attr("font-size", "20px").attr("dy", 7).text("black");
cap.append("tspan").attr("dy", -7).text(") ,  GPSPPP (o");
cap.append("tspan").attr("font-size", "20px").attr("dy", 7).text("blue");
cap.append("tspan").attr("dy", -7).text(")  2811Ep");

// panel 2: residuals
frame(xMjd, yRes, {
  xMajor: mjdMajor, xMinor: mjdMinor, xFmt: d3.format("d"),
  yMajor: d3.range(-2, 2.51, 0.5), yMinor: [], yFmt: d3.format(".1f"), yPad: 27,
  yTitleX: 57, xTitle: mjdTitle, yTitle: t => t.text("residuals (ns)")
});
crosses(xMjd, yRes, residNs, 0);
crosses(xMjd, yRes, residNsB, p3Step / 3);
crosses(xMjd, yRes, residNsC, 2 * p3Step / 3);
svg.append("text").attr("class", "title").style("font-size", "25px")
  .attr("x", 202).attr("y", 1381)
  .text("Max Smoothing Residual:_-1.619__2.495__0.581  Sigma= 0.598ns");

// panel 3: modified Allan deviation
frame(xAdev, yAdev, {
  xMajor: [3, 4, 5, 6], xMinor: [3.5, 4.5, 5.5], xFmt: d3.format("d"),
  yMajor: d3.range(-16, -10.9, 1), yMinor: d3.range(-16.5, -10.4, 1), yFmt: d3.format("d"), yPad: 26,
  yTitleX: 74, xTitle: tauTitle,
  yTitle: t => {
    t.append("tspan").text("Modified Allan Deviation (10");
    t.append("tspan").attr("font-size", "19px").attr("dy", -12).text("-15");
    t.append("tspan").attr("dy", 12).text(")");
  }
});
const gA = svg.append("g");
gA.append("g").attr("clip-path", clipFor(xAdev, yAdev))
  .selectAll("circle").data(markLogTau).join("circle")
  .attr("cx", d => xAdev(d)).attr("cy", yAdev(-16.5)).attr("r", 4.5).attr("fill", "#000");
gA.selectAll("text.mk").data(markName).join("text").attr("class", "red mk")
  .attr("text-anchor", "middle")
  .attr("x", (d, i) => xAdev(markLogTau[i])).attr("y", yAdev(-16.5) - 6).text(d => d);
gA.selectAll("circle.pt").data(adevLog).join("circle").attr("class", "pt")
  .attr("cx", (d, i) => xAdev(adevLogTau[i])).attr("cy", d => yAdev(d))
  .attr("r", 6).attr("fill", "#000");
gA.selectAll("text.lb").data(adevLabel).join("text").attr("class", "red lb")
  .attr("text-anchor", "middle")
  .attr("x", (d, i) => xAdev(adevLogTau[i])).attr("y", (d, i) => yAdev(adevLog[i]) - 8)
  .text(d => d)
  .each(function (d, i) {
    // keep the label inside the frame
    const w = this.getComputedTextLength();
    const x0 = xAdev(adevLogTau[i]);
    if (x0 - w / 2 < xAdev.range()[0]) d3.select(this).attr("x", xAdev.range()[0] + w / 2);
  });
const tauNote = svg.append("text").attr("font-weight", "bold").attr("font-size", "17px")
  .attr("x", 214).attr("y", 1539);
tauNote.append("tspan").attr("font-family", "DejaVu Serif").attr("font-weight", "normal").text("τ");
tauNote.append("tspan").text(" = 1042s");

// panel 4: time deviation
frame(xTdev, yTdev, {
  xMajor: [3, 4, 5, 6], xMinor: [3.5, 4.5, 5.5], xFmt: d3.format("d"),
  yMajor: [-10, -9], yMinor: [-9.5, -8.5], yFmt: d3.format("d"), yPad: 27,
  yTitleX: 758, xTitle: tauTitle,
  yTitle: t => {
    t.append("tspan").text("Time deviation (10");
    t.append("tspan").attr("font-size", "19px").attr("dy", -12).text("-10");
    t.append("tspan").attr("dy", 12).text(" s)");
  }
});
const gT = svg.append("g");
gT.selectAll("circle.mk").data(markLogTau).join("circle").attr("class", "mk")
  .attr("cx", d => xTdev(d)).attr("cy", yTdev(-9.993)).attr("r", 6).attr("fill", "#000");
gT.selectAll("text.mk").data(markName).join("text").attr("class", "red mk")
  .attr("text-anchor", "middle")
  .attr("x", (d, i) => xTdev(markLogTau[i])).attr("y", yTdev(-10) - 27).text(d => d);
gT.selectAll("circle.pt").data(tdevLog).join("circle").attr("class", "pt")
  .attr("cx", (d, i) => xTdev(tdevLogTau[i])).attr("cy", d => yTdev(d))
  .attr("r", 6).attr("fill", "#000");
gT.selectAll("text.lb").data(tdevLabel).join("text").attr("class", "red lb")
  .style("font-size", "18px").attr("text-anchor", "middle")
  .attr("x", (d, i) => xTdev(tdevLogTau[i])).attr("y", (d, i) => yTdev(tdevLog[i]) - 30)
  .text(d => d);
</script>
</body>
</html>
